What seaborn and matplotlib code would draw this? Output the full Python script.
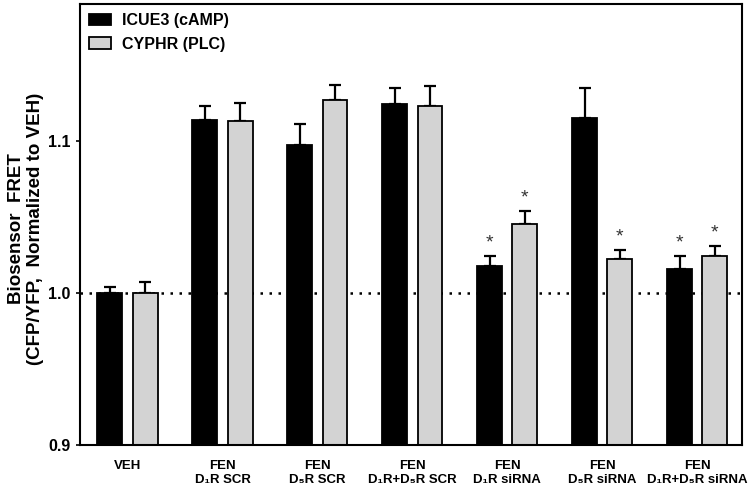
import numpy as np
import pandas as pd
import matplotlib
matplotlib.use("Agg")
import matplotlib.pyplot as plt
import seaborn as sns

# ── Data ──────────────────────────────────────────────────────────────────────
GROUPS = ["VEH", "FEN\nD₁R SCR", "FEN\nD₅R SCR", "FEN\nD₁R+D₅R SCR",
          "FEN\nD₁R siRNA", "FEN\nD₅R siRNA", "FEN\nD₁R+D₅R siRNA"]
SENSORS = ["ICUE3 (cAMP)", "CYPHR (PLC)"]

icue3_mean = [1.000, 1.114, 1.097, 1.124, 1.018, 1.115, 1.016]
icue3_sem  = [0.004, 0.009, 0.014, 0.011, 0.006, 0.020, 0.008]
cyphr_mean = [1.000, 1.113, 1.127, 1.123, 1.045, 1.022, 1.024]
cyphr_sem  = [0.007, 0.012, 0.010, 0.013, 0.009, 0.006, 0.007]
icue3_sig  = [False, False, False, False, True, False, True]
cyphr_sig  = [False, False, False, False, True, True, True]

df = pd.DataFrame({
    "group":  GROUPS * 2,
    "sensor": [SENSORS[0]] * len(GROUPS) + [SENSORS[1]] * len(GROUPS),
    "mean":   icue3_mean + cyphr_mean,
    "sem":    icue3_sem + cyphr_sem,
    "sig":    icue3_sig + cyphr_sig,
})

plt.rcParams["font.family"] = ["Liberation Sans", "DejaVu Sans"]
plt.rcParams["font.weight"] = "bold"

fig = plt.figure(figsize=(7.5, 4.86), dpi=100)
ax = fig.add_axes([0.1067, 0.0844, 0.8826, 0.9074])

ax.axhline(1.0, color="black", linestyle=(0, (1, 2.6)), linewidth=1.8, zorder=0)

sns.barplot(
    data=df, x="group", y="mean", hue="sensor", order=GROUPS, hue_order=SENSORS,
    palette=["black", "#d3d3d3"], errorbar=None, width=0.74, gap=0.29,
    edgecolor="black", linewidth=1.3, ax=ax, zorder=2,
)

# error bars (upper only) + significance stars, using the bar positions
for container, sensor in zip(ax.containers, SENSORS):
    sub = df[df["sensor"] == sensor].reset_index(drop=True)
    for bar, (_, row) in zip(container.patches, sub.iterrows()):
        cx = bar.get_x() + bar.get_width() / 2
        top = bar.get_height()
        ax.errorbar(cx, top, yerr=[[0], [row["sem"]]], fmt="none",
                    ecolor="black", elinewidth=1.6, capsize=4.2, capthick=1.6,
                    zorder=1)
        if row["sig"]:
            ax.text(cx, top + row["sem"] + 0.003, "*", ha="center", va="bottom",
                    fontsize=14, fontweight="normal", color="#333333")

ax.set_xlim(-0.5, 6.47)
ax.set_ylim(0.9, 1.19)
ax.set_yticks([0.9, 1.0, 1.1])
ax.set_yticklabels(["0.9", "1.0", "1.1"], fontsize=11.5, fontweight="bold")
ax.tick_params(axis="y", length=3, width=1.2, pad=4)
ax.tick_params(axis="x", length=0, pad=11)
for lab in ax.get_xticklabels():
    lab.set_fontsize(9.5)
    lab.set_fontweight("bold")
ax.set_xlabel("")
ax.set_ylabel("Biosensor  FRET\n(CFP/YFP,  Normalized to VEH)",
              fontsize=13.5, fontweight="bold", linespacing=1.12)
ax.yaxis.set_label_coords(-0.055, 0.49)
for s in ax.spines.values():
    s.set_linewidth(1.5)

leg = ax.legend(loc="upper left", frameon=False, fontsize=11.5,
                handlelength=1.4, handleheight=0.7, handletextpad=0.7,
                borderaxespad=0.15, labelspacing=0.55)
for t in leg.get_texts():
    t.set_fontweight("bold")

fig.savefig("out.png", dpi=100)
